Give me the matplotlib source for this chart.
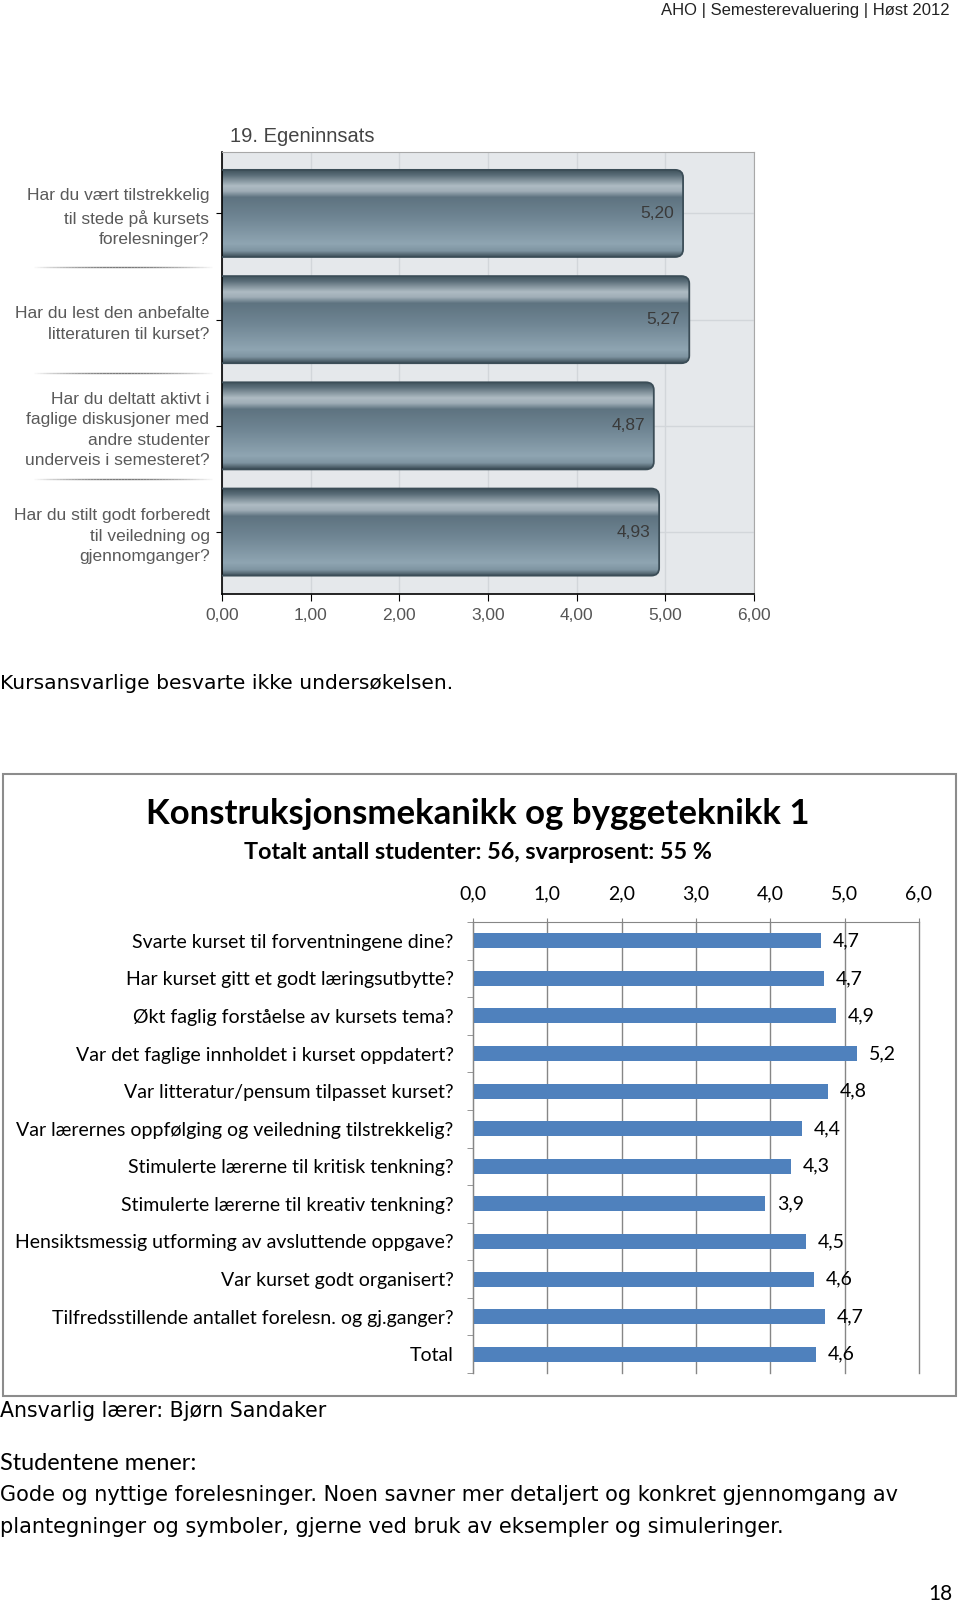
import numpy as np
import matplotlib.pyplot as plt
from matplotlib.colors import LinearSegmentedColormap
from matplotlib.patches import FancyBboxPatch, Rectangle
from matplotlib.collections import LineCollection
import matplotlib.transforms as mtransforms

W, H = 960, 1605

# --- data: 19. Egeninnsats
own_questions = [
    "Har du vært tilstrekkelig\ntil stede på kursets\nforelesninger?",
    "Har du lest den anbefalte\nlitteraturen til kurset?",
    "Har du deltatt aktivt i\nfaglige diskusjoner med\nandre studenter\nunderveis i semesteret?",
    "Har du stilt godt forberedt\ntil veiledning og\ngjennomganger?",
]
own_values = [5.20, 5.27, 4.87, 4.93]
own_ticks = [0, 1, 2, 3, 4, 5, 6]

# --- data: Konstruksjonsmekanikk og byggeteknikk 1
course_questions = [
    "Svarte kurset til forventningene dine?",
    "Har kurset gitt et godt læringsutbytte?",
    "Økt faglig forståelse av kursets tema?",
    "Var det faglige innholdet i kurset oppdatert?",
    "Var litteratur/pensum tilpasset kurset?",
    "Var lærernes oppfølging og veiledning tilstrekkelig?",
    "Stimulerte lærerne til kritisk tenkning?",
    "Stimulerte lærerne til kreativ tenkning?",
    "Hensiktsmessig utforming av avsluttende oppgave?",
    "Var kurset godt organisert?",
    "Tilfredsstillende antallet forelesn. og gj.ganger?",
    "Total",
]
course_values = [4.68, 4.72, 4.88, 5.17, 4.78, 4.42, 4.28, 3.93, 4.48, 4.59, 4.74, 4.61]
course_ticks = [0, 1, 2, 3, 4, 5, 6]


def fx(px):
    return px / W


def fy(py):
    return 1 - py / H


plt.rcParams['font.family'] = ['DejaVu Sans']
fig = plt.figure(figsize=(W / 100, H / 100), dpi=100)

fig.text(fx(950), fy(11), "AHO | Semesterevaluering | Høst 2012", ha='right', va='center',
         fontsize=12, family='Liberation Sans', color='#222222')

# ---------------- top chart
ax1 = fig.add_axes([fx(222), fy(594), 532 / W, (594 - 151.5) / H])
ypos = np.arange(len(own_values))[::-1]
ax1.set_facecolor('#e5e8eb')
ax1.set_axisbelow(True)
ax1.grid(True, color='#d2d6da', lw=1)

cmap = LinearSegmentedColormap.from_list('steel', [
    (0.0, '#3c4e58'), (0.07, '#5b6e79'), (0.19, '#aebbc3'), (0.25, '#a0aeb7'),
    (0.32, '#5e7380'), (0.55, '#6f8593'), (0.85, '#8fa5b2'), (0.93, '#7f95a2'),
    (1.0, '#3c4d57')])
grad = np.linspace(0, 1, 256).reshape(-1, 1)
bar_h = 0.82
for y, v in zip(ypos, own_values):
    patch = FancyBboxPatch((-0.3, y - bar_h / 2), v + 0.3, bar_h,
                           boxstyle="round,pad=0,rounding_size=0.09", mutation_aspect=0.8,
                           facecolor='none', edgecolor='#3b4d57', lw=1.3, zorder=3)
    ax1.add_patch(patch)
    im = ax1.imshow(grad, cmap=cmap, aspect='auto', origin='upper',
                    extent=(-0.3, v, y - bar_h / 2, y + bar_h / 2), zorder=2)
    im.set_clip_path(patch)
    ax1.text(v - 0.1, y, f"{v:.2f}".replace('.', ','), ha='right', va='center',
             fontsize=12.5, family='Liberation Sans', color='#3a3a3a', zorder=4)

ax1.set_xlim(0, 6)
ax1.set_ylim(-0.583, len(own_values) - 0.417)
ax1.set_xticks(own_ticks)
ax1.set_xticklabels([f"{t:.2f}".replace('.', ',') for t in own_ticks],
                    family='Liberation Sans', fontsize=12.5, color='#555555')
ax1.set_yticks(ypos)
ax1.set_yticklabels(own_questions, family='Liberation Sans', fontsize=12.5, color='#5a5a5a')
for lbl in ax1.get_yticklabels():
    lbl.set_linespacing(1.46)
ax1.tick_params(axis='x', length=5, pad=5, color='black')
ax1.tick_params(axis='y', length=4, pad=5, color='black')
for s in ['left', 'bottom']:
    ax1.spines[s].set_color('black')
    ax1.spines[s].set_linewidth(1.2)
for s in ['top', 'right']:
    ax1.spines[s].set_color('#a8a8a8')

# fading separators between the question labels
trans = mtransforms.blended_transform_factory(ax1.transAxes, ax1.transData)
xs = np.linspace(-0.36, -0.013, 60)
fade = np.sin(np.linspace(0, np.pi, 59))
for yb in [0.5, 1.5, 2.5]:
    segs = [[(xs[i], yb), (xs[i + 1], yb)] for i in range(59)]
    lc = LineCollection(segs, colors=[(0.35, 0.35, 0.35, a * 0.8) for a in fade],
                        lw=1, transform=trans, clip_on=False)
    ax1.add_collection(lc)

fig.text(fx(230), fy(136), "19. Egeninnsats", fontsize=14.5, color='#444444', va='center',
         family='Liberation Sans')

fig.text(fx(0), fy(683), "Kursansvarlige besvarte ikke undersøkelsen.", fontsize=14.6,
         va='center', ha='left')

# ---------------- second chart
fig.add_artist(Rectangle((fx(3), fy(1396)), 953 / W, (1396 - 774) / H, transform=fig.transFigure,
                         fill=False, edgecolor='#8c8c8c', lw=1.5))
fig.text(fx(478), fy(814), "Konstruksjonsmekanikk og byggeteknikk 1", fontsize=25,
         weight='bold', ha='center', va='center', family='Lato')
fig.text(fx(478), fy(852), "Totalt antall studenter: 56, svarprosent: 55 %", fontsize=16.8,
         weight='bold', ha='center', va='center', family='Lato')

ax2 = fig.add_axes([fx(473), fy(1373), 446 / W, 451 / H])
ypos2 = np.arange(len(course_values))
ax2.set_axisbelow(True)
ax2.grid(axis='x', color='#868686', lw=1)
ax2.barh(ypos2, course_values, height=0.4, color='#4f81bd', zorder=2)
for y, v in zip(ypos2, course_values):
    ax2.text(v + 0.16, y, f"{v:.1f}".replace('.', ','), va='center', ha='left',
             fontsize=14, family='Lato', zorder=4)
ax2.set_xlim(0, 6)
ax2.set_ylim(len(course_values) - 0.5, -0.5)
ax2.xaxis.tick_top()
ax2.set_xticks(course_ticks)
ax2.set_xticklabels([f"{t:.1f}".replace('.', ',') for t in course_ticks], family='Lato',
                    fontsize=14)
for line in ax2.get_xgridlines():
    line.set_clip_on(False)
ax2.tick_params(axis='x', length=3, pad=11, color='#868686')
ax2.set_yticks(ypos2)
ax2.set_yticklabels(course_questions, family='Lato', fontsize=14)
ax2.set_yticks(np.arange(len(course_values) + 1) - 0.5, minor=True)
ax2.tick_params(axis='y', which='major', length=0, pad=14)
ax2.tick_params(axis='y', which='minor', length=4, color='#868686')
for s in ['bottom', 'right']:
    ax2.spines[s].set_visible(False)
for s in ['top', 'left']:
    ax2.spines[s].set_color('#868686')

fig.text(fx(0), fy(1411), "Ansvarlig lærer: Bjørn Sandaker", fontsize=14.8, va='center')
fig.text(fx(0), fy(1464), "Studentene mener:", fontsize=16.9, va='center', family='Lato')
fig.text(fx(0), fy(1495),
         "Gode og nyttige forelesninger. Noen savner mer detaljert og konkret gjennomgang av",
         fontsize=15, va='center')
fig.text(fx(0), fy(1527),
         "plantegninger og symboler, gjerne ved bruk av eksempler og simuleringer.",
         fontsize=15, va='center')
fig.text(fx(952), fy(1594), "18", fontsize=15, ha='right', va='center', family='Lato')

fig.savefig("out.png", dpi=100)
